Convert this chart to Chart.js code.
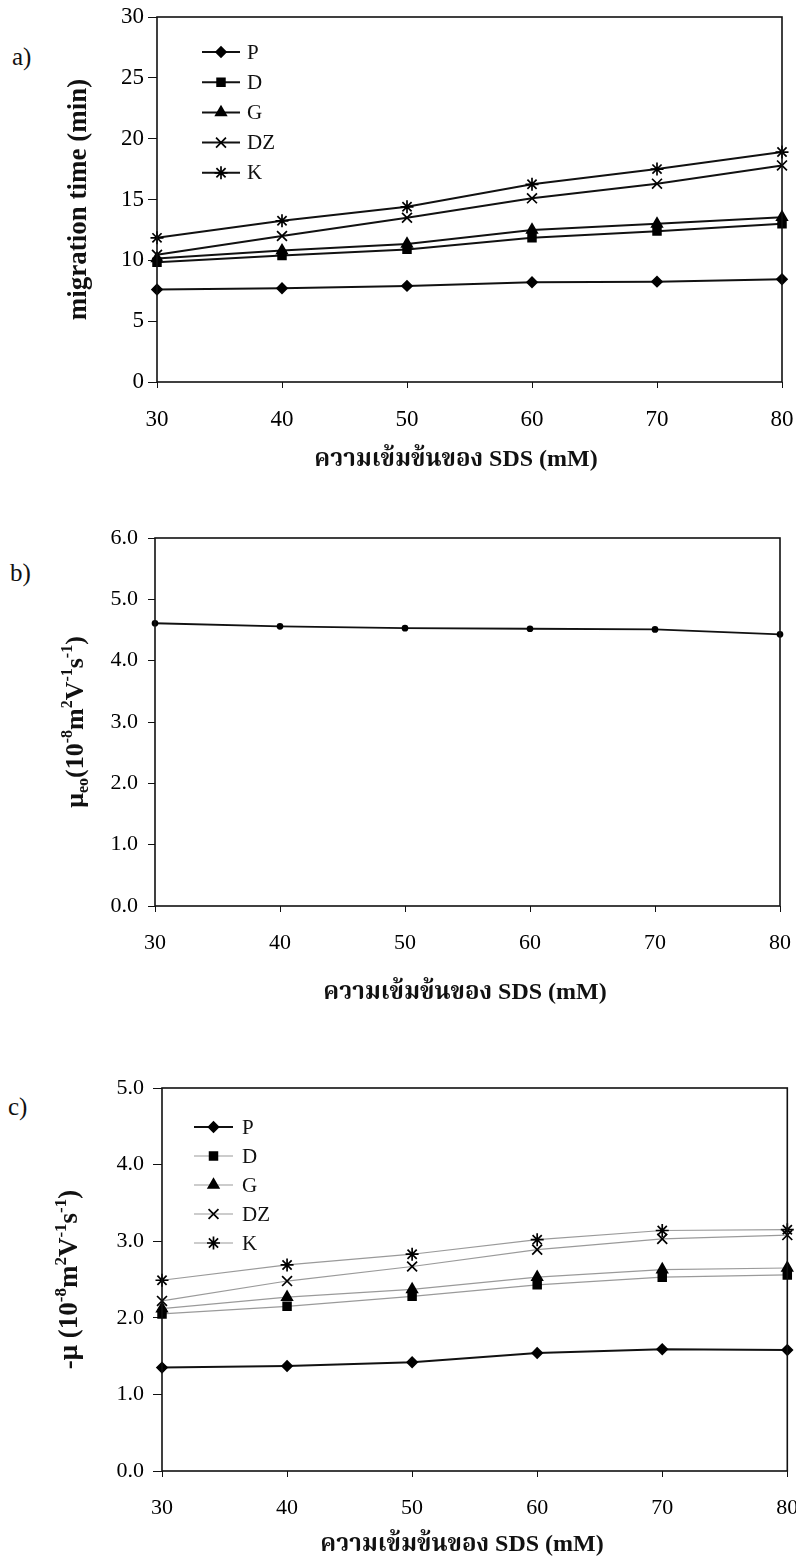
<!DOCTYPE html>
<html>
<head>
<meta charset="utf-8">
<script src="https://cdn.jsdelivr.net/npm/chart.js@4.4.1/dist/chart.umd.min.js"></script>
<style>
  html, body { margin: 0; padding: 0; background: #fff; }
  body { width: 796px; height: 1558px; position: relative; overflow: hidden; }
  .panel { position: absolute; left: 0; }
  .tag { position: absolute; font-family: 'Liberation Serif', serif; font-size: 25px; color: #111; line-height: 1; }
</style>
</head>
<body>
<div class="tag" style="left:12px;top:44px">a)</div>
<div class="tag" style="left:10px;top:560px">b)</div>
<div class="tag" style="left:8px;top:1094px">c)</div>

<div class="panel" style="top:0"><canvas id="chartA" width="796" height="490"></canvas></div>
<div class="panel" style="top:500px"><canvas id="chartB" width="796" height="530"></canvas></div>
<div class="panel" style="top:1040px"><canvas id="chartC" width="796" height="518"></canvas></div>

<script>
// SDS concentration (mM) on every x axis
const sdsConc = ['30', '40', '50', '60', '70', '80'];

// a) migration time (min)
const timeP  = [7.6, 7.7, 7.9, 8.2, 8.25, 8.45];
const timeD  = [9.85, 10.4, 10.9, 11.85, 12.4, 13.0];
const timeG  = [10.15, 10.8, 11.35, 12.5, 13.0, 13.55];
const timeDZ = [10.45, 12.0, 13.5, 15.1, 16.3, 17.8];
const timeK  = [11.85, 13.25, 14.4, 16.25, 17.5, 18.9];
const timeTicks = [0, 5, 10, 15, 20, 25, 30];

// b) electroosmotic mobility
const mobilityEo = [4.61, 4.56, 4.53, 4.52, 4.51, 4.43];
const eoTicks = [0, 1, 2, 3, 4, 5, 6];

// c) effective mobility (-mu)
const mobP  = [1.35, 1.37, 1.42, 1.54, 1.59, 1.58];
const mobD  = [2.05, 2.15, 2.28, 2.43, 2.53, 2.56];
const mobG  = [2.12, 2.27, 2.37, 2.53, 2.63, 2.65];
const mobDZ = [2.22, 2.48, 2.67, 2.89, 3.03, 3.08];
const mobK  = [2.49, 2.69, 2.83, 3.02, 3.14, 3.15];
const mobTicks = [0, 1, 2, 3, 4, 5];

const SERIF = "'Liberation Serif', 'Times New Roman', serif";
const THAI = "'Liberation Serif', 'Noto Serif Thai', 'Noto Sans Thai', 'Loma', 'Garuda', 'Norasi', serif";

const markers = {
  P:  { pointStyle: 'rectRot',  pointRadius: 5 },
  D:  { pointStyle: 'rect',     pointRadius: 5.5 },
  G:  { pointStyle: 'triangle', pointRadius: 6 },
  DZ: { pointStyle: 'crossRot', pointRadius: 7 },
  K:  { pointStyle: 'star',     pointRadius: 6.5 }
};

function series(name, values, lineColor, lineWidth) {
  return Object.assign({
    label: name,
    data: values,
    borderColor: lineColor,
    borderWidth: lineWidth,
    backgroundColor: '#000',
    pointBackgroundColor: '#000',
    pointBorderColor: '#000',
    pointBorderWidth: 1.7,
    tension: 0,
    clip: false
  }, markers[name]);
}

// rotated y title with super/subscripts: parts are [text, 'sup'|'sub'|undefined]
function drawRichVertical(ctx, parts, cx, cy, size) {
  const big = 'bold ' + size + 'px ' + SERIF;
  const small = 'bold ' + Math.round(size * 0.62) + 'px ' + SERIF;
  ctx.save();
  ctx.translate(cx, cy);
  ctx.rotate(-Math.PI / 2);
  ctx.textBaseline = 'alphabetic';
  ctx.fillStyle = '#111';
  let total = 0;
  parts.forEach(p => { ctx.font = p[1] ? small : big; total += ctx.measureText(p[0]).width; });
  let x = -total / 2;
  const base = size * 0.33;
  parts.forEach(p => {
    ctx.font = p[1] ? small : big;
    let y = base;
    if (p[1] === 'sup') y = base - size * 0.42;
    if (p[1] === 'sub') y = base + size * 0.2;
    ctx.fillText(p[0], x, y);
    x += ctx.measureText(p[0]).width;
  });
  ctx.restore();
}

const decor = {
  id: 'decor',
  afterDraw(chart, args, opts) {
    const ctx = chart.ctx;
    const a = chart.chartArea;
    // box round the plot
    ctx.save();
    ctx.strokeStyle = '#111';
    ctx.lineWidth = 1.6;
    ctx.strokeRect(a.left, a.top, a.right - a.left, a.bottom - a.top);
    ctx.restore();

    // x title
    ctx.save();
    ctx.font = 'bold ' + opts.xTitleSize + 'px ' + THAI;
    ctx.fillStyle = '#111';
    ctx.textAlign = 'center';
    ctx.textBaseline = 'middle';
    ctx.fillText('ความเข้มข้นของ SDS (mM)', opts.xTitleX, opts.xTitleY);
    ctx.restore();

    drawRichVertical(ctx, opts.yTitle, opts.yTitleX, (a.top + a.bottom) / 2, opts.yTitleSize);

    // legend: line sample, black marker, name
    if (opts.legend) {
      const L = opts.legend;
      chart.data.datasets.forEach((ds, i) => {
        const y = L.y + i * L.gap;
        ctx.save();
        ctx.strokeStyle = ds.borderColor;
        ctx.lineWidth = ds.borderWidth;
        ctx.beginPath();
        ctx.moveTo(L.x1, y);
        ctx.lineTo(L.x2, y);
        ctx.stroke();
        ctx.fillStyle = '#000';
        ctx.strokeStyle = '#000';
        ctx.lineWidth = ds.pointBorderWidth;
        Chart.helpers.drawPoint(ctx, {
          pointStyle: ds.pointStyle, radius: ds.pointRadius, borderWidth: ds.pointBorderWidth
        }, (L.x1 + L.x2) / 2, y);
        ctx.font = L.size + 'px ' + SERIF;
        ctx.fillStyle = '#111';
        ctx.textBaseline = 'middle';
        ctx.fillText(ds.label, L.tx, y + 1);
        ctx.restore();
      });
    }
  }
};

function makeChart(id, cfg) {
  const canvas = document.getElementById(id);
  const W = canvas.width, H = canvas.height;
  const xAxisH = 60;
  return new Chart(canvas, {
    type: 'line',
    data: { labels: sdsConc, datasets: cfg.datasets },
    plugins: [decor],
    options: {
      responsive: false,
      animation: false,
      events: [],
      layout: {
        padding: { left: 0, top: cfg.area.top, right: W - cfg.area.right, bottom: H - cfg.area.bottom - xAxisH }
      },
      scales: {
        x: {
          offset: false,
          border: { display: false },
          grid: { drawOnChartArea: false, drawTicks: true, tickLength: 6, color: '#111', tickColor: '#111' },
          ticks: { color: '#000', padding: 18, maxRotation: 0, autoSkip: false, font: { family: SERIF, size: cfg.tickSize } },
          afterFit(scale) { scale.height = xAxisH; scale.paddingLeft = 0; scale.paddingRight = 0; }
        },
        y: {
          min: cfg.yTicks[0],
          max: cfg.yTicks[cfg.yTicks.length - 1],
          border: { display: false },
          grid: { drawOnChartArea: false, drawTicks: true, tickLength: cfg.yTickLen, color: '#111', tickColor: '#111' },
          afterBuildTicks(scale) { scale.ticks = cfg.yTicks.map(v => ({ value: v })); },
          ticks: {
            color: '#000', padding: cfg.yTickPad,
            font: { family: SERIF, size: cfg.tickSize },
            callback: v => cfg.decimals ? v.toFixed(1) : String(v)
          },
          afterFit(scale) { scale.width = cfg.area.left; scale.paddingTop = 0; scale.paddingBottom = 0; }
        }
      },
      plugins: {
        legend: { display: false },
        tooltip: { enabled: false },
        decor: cfg.decor
      }
    }
  });
}

makeChart('chartA', {
  area: { left: 157, right: 782, top: 17, bottom: 382 },
  yTicks: timeTicks, decimals: false, tickSize: 23, yTickLen: 9, yTickPad: 4,
  datasets: [
    series('P', timeP, '#111', 2),
    series('D', timeD, '#111', 2),
    series('G', timeG, '#111', 2),
    series('DZ', timeDZ, '#111', 2),
    series('K', timeK, '#111', 2)
  ],
  decor: {
    xTitleX: 456, xTitleY: 460, xTitleSize: 24,
    yTitle: [['migration time (min)']], yTitleX: 77, yTitleSize: 27,
    legend: { x1: 202, x2: 240, tx: 247, y: 52, gap: 30.2, size: 21 }
  }
});

makeChart('chartB', {
  area: { left: 155, right: 780, top: 38, bottom: 406 },
  yTicks: eoTicks, decimals: true, tickSize: 22, yTickLen: 7, yTickPad: 10,
  datasets: [
    Object.assign(series('P', mobilityEo, '#111', 1.8), { label: 'eo', pointStyle: 'circle', pointRadius: 2.5 })
  ],
  decor: {
    xTitleX: 465, xTitleY: 493, xTitleSize: 24,
    yTitle: [['μ'], ['eo', 'sub'], ['(10'], ['-8', 'sup'], ['m'], ['2', 'sup'], ['V'], ['-1', 'sup'], ['s'], ['-1', 'sup'], [')']],
    yTitleX: 74, yTitleSize: 26
  }
});

makeChart('chartC', {
  area: { left: 162, right: 790, top: 48, bottom: 431 },
  yTicks: mobTicks, decimals: true, tickSize: 22, yTickLen: 9, yTickPad: 9,
  datasets: [
    series('P', mobP, '#111', 2),
    series('D', mobD, '#9a9a9a', 1.2),
    series('G', mobG, '#9a9a9a', 1.2),
    series('DZ', mobDZ, '#9a9a9a', 1.2),
    series('K', mobK, '#9a9a9a', 1.2)
  ],
  decor: {
    xTitleX: 462, xTitleY: 505, xTitleSize: 24,
    yTitle: [['-μ (10'], ['-8', 'sup'], ['m'], ['2', 'sup'], ['V'], ['-1', 'sup'], ['s'], ['-1', 'sup'], [')']],
    yTitleX: 68, yTitleSize: 27,
    legend: { x1: 194, x2: 233, tx: 242, y: 87, gap: 29, size: 21 }
  }
});
</script>
</body>
</html>
